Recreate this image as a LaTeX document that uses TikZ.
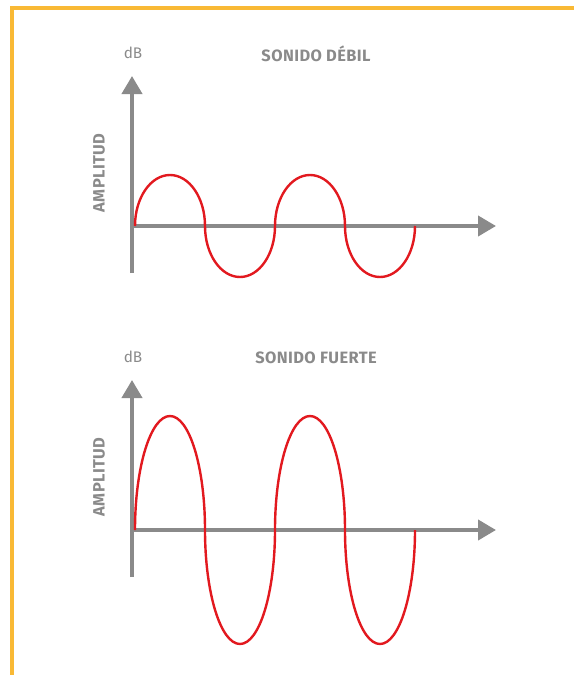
\documentclass[tikz,border=0pt]{standalone}
\usepackage{fontspec}
\setmainfont{Fira Sans}
\newfontfamily\spacedfont[LetterSpace=2.5]{Fira Sans}
\usetikzlibrary{arrows.meta}
\definecolor{frame}{HTML}{F9B935}
\definecolor{axisgray}{HTML}{8A8A8A}
\definecolor{wavered}{HTML}{E2191F}

\begin{document}
\begin{tikzpicture}[x=0.75pt,y=-0.75pt,
  axis/.style={axisgray,line width=3pt,-{Triangle[length=13.5pt,width=15pt]}},
  wave/.style={wavered,line width=1.8pt},
  title/.style={text=axisgray,font=\spacedfont\bfseries\fontsize{12.3}{14}\selectfont,inner sep=0pt},
  unit/.style={text=axisgray,font=\fontsize{11.5}{13}\selectfont,inner sep=0pt}]
\useasboundingbox (0,0) rectangle (574,675);
% frame
\coordinate (tl) at (12,8);
\coordinate (tr) at (574,8);
\coordinate (bl) at (12,675);
\draw[frame,line width=2.4pt] (tr) -- (tl) -- (bl);
% panels: origin y / amplitude / title / name
\foreach \oy/\amp/\ttl/\n in {226/51/SONIDO DÉBIL/deb,530/114/SONIDO FUERTE/fue}{
  \coordinate (\n o) at (132,\oy);
  \coordinate (\n bot) at (132,\oy+47);
  \coordinate (\n ytip) at (132,\oy-150);
  \coordinate (\n xtip) at (496,\oy);
  \node[unit] (\n db) at (133,\oy-173) {dB};
  \node[title] (\n ttl) at (316,\oy-172) {\ttl};
  \node[title,rotate=90] (\n amp) at (99,\oy-53) {AMPLITUD};
  \draw[axis] (\n bot) -- (\n ytip);
  \draw[axis] (\n o) -- (\n xtip);
  % two periods
  \draw[wave] (135,\oy)
    arc[start angle=180,end angle=360,x radius=35,y radius=\amp]
    arc[start angle=180,end angle=0,x radius=35,y radius=\amp]
    arc[start angle=180,end angle=360,x radius=35,y radius=\amp]
    arc[start angle=180,end angle=0,x radius=35,y radius=\amp];
}
\end{tikzpicture}
\end{document}
